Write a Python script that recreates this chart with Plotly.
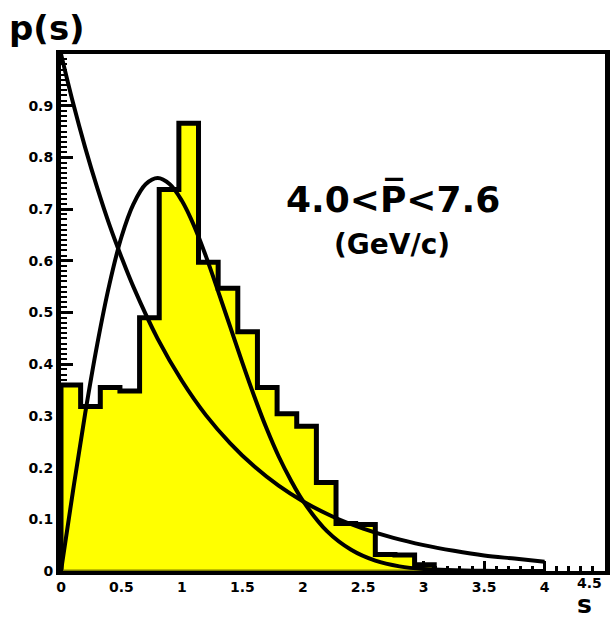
import numpy as np
import plotly.graph_objects as go

# Histogram of the spacing s (uniform bins starting at 0)
hist_lo = 0.0
bin_width = 0.1625
hist_p = [0.36, 0.318, 0.355, 0.348, 0.49, 0.738, 0.866, 0.597, 0.547, 0.463,
          0.355, 0.304, 0.280, 0.171, 0.092, 0.090, 0.032, 0.031, 0.012]

# Poisson reference curve
poisson_s = [0.0, 0.1, 0.2, 0.3, 0.4, 0.5, 0.6, 0.8, 1.0, 1.2, 1.4, 1.6, 1.8,
             2.0, 2.25, 2.5, 2.75, 3.0, 3.25, 3.5, 3.75, 4.0]
poisson_p = [1.0, 0.905, 0.819, 0.741, 0.670, 0.607, 0.549, 0.449, 0.368, 0.301,
             0.247, 0.202, 0.165, 0.135, 0.105, 0.082, 0.064, 0.050, 0.039,
             0.030, 0.024, 0.018]

# Wigner reference curve
wigner_s = [0.0, 0.1, 0.2, 0.3, 0.4, 0.5, 0.6, 0.7, 0.8, 0.9, 1.0, 1.1, 1.2, 1.3,
            1.4, 1.5, 1.6, 1.7, 1.8, 1.9, 2.0, 2.2, 2.4, 2.6, 2.8, 3.0, 3.5, 4.0]
wigner_p = [0.0, 0.156, 0.305, 0.439, 0.554, 0.646, 0.710, 0.748, 0.760, 0.748,
            0.716, 0.668, 0.608, 0.541, 0.472, 0.403, 0.337, 0.276, 0.222, 0.176,
            0.136, 0.077, 0.041, 0.020, 0.009, 0.004, 0.0003, 0.0]

x_ticks = [0, 0.5, 1, 1.5, 2, 2.5, 3, 3.5, 4, 4.5]
x_ticktext = ["0", "0.5", "1", "1.5", "2", "2.5", "3", "3.5", "4", "4.5"]
y_ticks = [0, 0.1, 0.2, 0.3, 0.4, 0.5, 0.6, 0.7, 0.8, 0.9]
y_ticktext = ["0", "0.1", "0.2", "0.3", "0.4", "0.5", "0.6", "0.7", "0.8", "0.9"]

edges = hist_lo + bin_width * np.arange(len(hist_p) + 1)
step_x = np.concatenate([[edges[0]], edges])
step_y = np.concatenate([[0.0], hist_p, [0.0]])

FONT = "DejaVu Sans"
TICK_FONT = dict(family=FONT, size=14, color="black", weight="bold")

fig = go.Figure()

# filled step histogram
fig.add_trace(go.Scatter(
    x=step_x, y=step_y, mode="lines", line_shape="hv",
    line=dict(color="black", width=5), fill="tozeroy", fillcolor="#ffff00",
    hoverinfo="skip", showlegend=False,
))
# histogram baseline
fig.add_trace(go.Scatter(
    x=[edges[0], edges[-1]], y=[0, 0], mode="lines",
    line=dict(color="#808000", width=3), cliponaxis=False,
    hoverinfo="skip", showlegend=False,
))
fig.add_trace(go.Scatter(
    x=poisson_s, y=poisson_p, mode="lines", line_shape="spline",
    line=dict(color="black", width=4), showlegend=False,
))
fig.add_trace(go.Scatter(
    x=wigner_s, y=wigner_p, mode="lines", line_shape="spline",
    line=dict(color="black", width=4), showlegend=False,
))

axis_common = dict(
    showline=True, linecolor="black", mirror=True,
    showgrid=False, zeroline=False, ticks="inside", tickcolor="black",
    tickfont=TICK_FONT, layer="below traces",
)

# the last x label sits at the right edge, so it is placed right-aligned below
x_labels_on_axis = x_ticktext[:-1] + [""]

fig.update_xaxes(
    range=[0, 4.5], tickmode="array", tickvals=x_ticks, ticktext=x_labels_on_axis,
    ticklen=10, tickwidth=3, linewidth=4,
    minor=dict(dtick=0.1, ticklen=5, tickwidth=3, ticks="inside", tickcolor="black"),
    **axis_common,
)
fig.update_yaxes(
    range=[0, 1.0], tickmode="array", tickvals=y_ticks, ticktext=y_ticktext,
    ticklen=12, tickwidth=3, linewidth=5,
    minor=dict(dtick=0.01, ticklen=6, tickwidth=2, ticks="inside", tickcolor="black"),
    **axis_common,
)

annotations = [
    dict(text="<b>4.0&lt;P\u0305&lt;7.6</b>", x=0.61, y=0.72, xref="paper", yref="paper",
         showarrow=False, xanchor="center", yanchor="middle",
         font=dict(family=FONT, size=36, color="black")),
    dict(text="<b>(GeV/c)</b>", x=0.608, y=0.632, xref="paper", yref="paper",
         showarrow=False, xanchor="center", yanchor="middle",
         font=dict(family=FONT, size=28, color="black")),
    dict(text="<b>p(s)</b>", x=-0.0255, y=1.05, xref="paper", yref="paper",
         showarrow=False, xanchor="center", yanchor="middle",
         font=dict(family=FONT, size=34, color="black")),
    dict(text="<b>s</b>", x=0.962, y=-0.0948, xref="paper", yref="paper",
         showarrow=False, xanchor="center", yanchor="bottom", borderpad=0,
         font=dict(family=FONT, size=25, color="black")),
    dict(text=x_ticktext[-1], x=0.997, y=0, xref="paper", yref="paper",
         showarrow=False, xanchor="right", yanchor="top", yshift=-3, borderpad=0,
         font=TICK_FONT),
]

fig.update_layout(
    width=615, height=620,
    margin=dict(l=61, r=5, t=54, b=49),
    paper_bgcolor="white", plot_bgcolor="white",
    annotations=annotations,
    showlegend=False,
)

fig.write_html("out.html")
